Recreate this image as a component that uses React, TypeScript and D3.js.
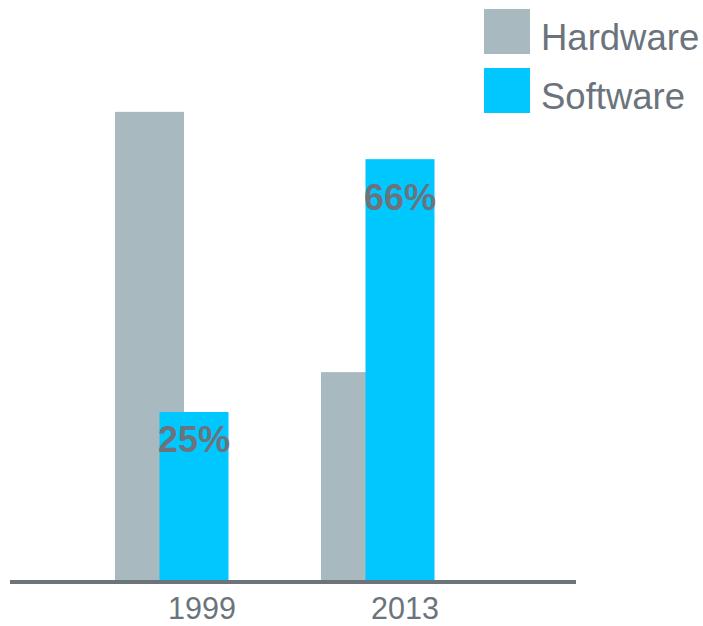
import React from "react";
import * as d3 from "d3";

const categories = ["1999", "2013"];
const hardware = [69.4, 30.9];
const software = [25, 62.4];
const softwareLabels = ["25%", "66%"];
const seriesNames = ["Hardware", "Software"];
const colors = ["#a8b9bf", "#00c8ff"];

const W = 703;
const H = 626;
const TEXT = "#6b747c";
const FONT = "'Liberation Sans', Arial, Helvetica, sans-serif";

export default function App() {
  const x = d3.scaleBand<string>().domain(categories).range([99, 511]).padding(0);
  const y = d3.scaleLinear().domain([0, 100]).range([581, 581 - 676]);
  const barW = 69;
  const hwOff = -87;
  const swOff = -42.5;
  const labelDy = [40, 51];
  const yearDx = [0, -3];

  const center = (c: string) => (x(c) as number) + x.bandwidth() / 2;

  return (
    <svg
      width={W}
      height={H}
      style={{ position: "absolute", left: 0, top: 0, display: "block" }}
      fontFamily={FONT}
    >
      <rect x={0} y={0} width={W} height={H} fill="#fff" />
      {categories.map((c, i) => (
        <g key={c}>
          <rect
            x={center(c) + hwOff}
            y={y(hardware[i])}
            width={barW}
            height={y(0) - y(hardware[i])}
            fill={colors[0]}
          />
          <rect
            x={center(c) + swOff}
            y={y(software[i])}
            width={barW}
            height={y(0) - y(software[i])}
            fill={colors[1]}
          />
          <text
            x={center(c) + swOff + barW / 2}
            y={y(software[i]) + labelDy[i]}
            textAnchor="middle"
            fontWeight="bold"
            fontSize={36}
            fill={TEXT}
          >
            {softwareLabels[i]}
          </text>
          <text x={center(c) + yearDx[i]} y={619} textAnchor="middle" fontSize={30.5} fill={TEXT}>
            {c}
          </text>
        </g>
      ))}
      <line x1={10} x2={576} y1={582} y2={582} stroke="#6b737b" strokeWidth={4} />
      {seriesNames.map((s, i) => (
        <g key={s} transform={`translate(484, ${9 + i * 59})`}>
          <rect x={0} y={0} width={46} height={45} fill={colors[i]} />
          <text x={57} y={41} fontSize={36.5} fill={TEXT}>
            {s}
          </text>
        </g>
      ))}
    </svg>
  );
}
